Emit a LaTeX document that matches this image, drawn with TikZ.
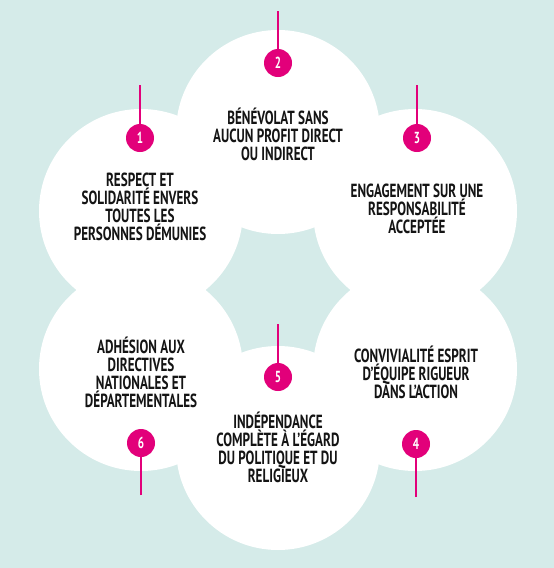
\documentclass[tikz,border=0pt]{standalone}
\usepackage{fontspec}
\newfontfamily\dinfont[FakeStretch=0.69,BoldFont={PT Sans Bold}]{PT Sans}
\definecolor{bgteal}{HTML}{D5EBE9}
\definecolor{rose}{HTML}{E2007A}
\definecolor{ink}{HTML}{141414}
\tikzset{
  blob/.style={circle, fill=white, minimum size=204pt, inner sep=0pt},
  badge/.style={circle, fill=rose, minimum size=28pt, inner sep=0pt, text=white,
    font=\dinfont\bfseries\fontsize{16}{16}\selectfont},
  pinkline/.style={draw=rose, line width=1.1pt},
  lbl/.style={align=center, text=ink, inner sep=0pt,
    font=\dinfont\bfseries\fontsize{19}{18}\selectfont}
}
\begin{document}
\begin{tikzpicture}[x=1pt,y=-1pt]
\useasboundingbox (0,0) rectangle (554,568);
\fill[bgteal] (0,0) rectangle (554,568);
% six circles around (278,290)
\node[blob] (c2) at (278,132) {};
\node[blob] (c3) at (415,211) {};
\node[blob] (c4) at (415,369) {};
\node[blob] (c5) at (278,448) {};
\node[blob] (c6) at (141,369) {};
\node[blob] (c1) at (141,211) {};
% lines and badges
\coordinate (t1) at (140,85);
\coordinate (t2) at (278,11);
\coordinate (t3) at (417,85);
\coordinate (t4) at (416,497);
\coordinate (t5) at (278,324);
\coordinate (t6) at (141,495);
\node[badge] (b1) at (140,138) {1};
\node[badge] (b2) at (278,63) {2};
\node[badge] (b3) at (417,138) {3};
\node[badge] (b4) at (416,444) {4};
\node[badge] (b5) at (278,377) {5};
\node[badge] (b6) at (141,443) {6};
\draw[pinkline] (t1) -- (b1);
\draw[pinkline] (t2) -- (b2);
\draw[pinkline] (t3) -- (b3);
\draw[pinkline] (t4) -- (b4);
\draw[pinkline] (t5) -- (b5);
\draw[pinkline] (t6) -- (b6);
% texts
\node[lbl] (l1) at (140,207) {RESPECT ET\\SOLIDARITÉ ENVERS\\TOUTES LES\\PERSONNES DÉMUNIES};
\node[lbl] (l2) at (278,134) {BÉNÉVOLAT SANS\\AUCUN PROFIT DIRECT\\OU INDIRECT};
\node[lbl] (l3) at (417,209) {ENGAGEMENT SUR UNE\\RESPONSABILITÉ\\ACCEPTÉE};
\node[lbl] (l4) at (416,372) {CONVIVIALITÉ ESPRIT\\D’ÉQUIPE RIGUEUR\\DANS L’ACTION};
\node[lbl] (l5) at (278,447) {INDÉPENDANCE\\COMPLÈTE À L’ÉGARD\\DU POLITIQUE ET DU\\RELIGIEUX};
\node[lbl] (l6) at (141,372) {ADHÉSION AUX\\DIRECTIVES\\NATIONALES ET\\DÉPARTEMENTALES};
\end{tikzpicture}
\end{document}
